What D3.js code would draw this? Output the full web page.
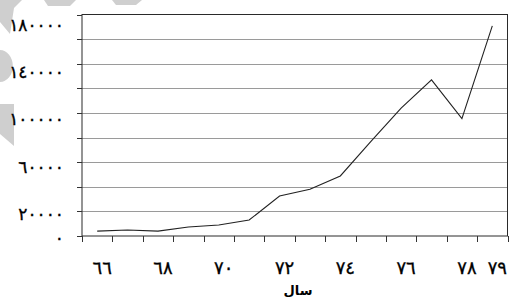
<!DOCTYPE html>
<html>
<head>
<meta charset="utf-8">
<script src="https://cdn.jsdelivr.net/npm/d3@7"></script>
<style>
  body { margin: 0; background: #fff; }
  svg { display: block; }
  text { font-family: "DejaVu Sans", sans-serif; fill: #000; }
  .oznaka { stroke: #000; stroke-width: 0.35; }
</style>
</head>
<body>
<div id="chart"></div>
<script>
// podaci
const godine = [66, 67, 68, 69, 70, 71, 72, 73, 74, 75, 76, 77, 78, 79];
const vrijednosti = [4000, 4900, 4000, 7300, 9000, 13000, 32500, 38000, 48800, 76700, 103900, 126900, 95400, 170800];
const oznakeX = [66, 68, 70, 72, 74, 76, 78, 79];
const oznakeY = [0, 20000, 60000, 100000, 140000, 180000];
const yMax = 180000;
const yKorak = 20000;
const naslovX = "سال";

// arapsko-indijske znamenke
const fa = n => String(n).replace(/\d/g, c => "٠١٢٣٤٥٦٧٨٩"[+c]);

const dim = { width: 512, height: 297, left: 82, right: 507.5, top: 14.5, bottom: 236 };

const svg = d3.select("#chart").append("svg")
    .attr("width", dim.width)
    .attr("height", dim.height);

// vodeni žig (blijedi sivi oblici lijevo gore)
const zig = svg.append("g").attr("fill", "#cfcfcf");
zig.append("path").attr("d", "M0,0 L22,0 L14,8 L10,34 L0,22 Z");
zig.append("path").attr("d", "M44,0 L76,0 L70,6 L48,6 Z");
zig.append("path").attr("d", "M112,0 L142,0 L136,5 L116,5 Z");
zig.append("path").attr("d", "M0,50 A12,15 0 0 1 0,82 Z");
zig.append("path").attr("d", "M0,104 L14,104 L14,146 L0,134 Z");

const x = d3.scaleBand()
    .domain(godine)
    .range([dim.left, dim.right])
    .padding(0);

const y = d3.scaleLinear()
    .domain([0, yMax])
    .range([dim.bottom, dim.top]);

// oznake na y osi stoje malo niže od mreže, kao u izvorniku
const yOznaka = d3.scaleLinear()
    .domain([0, yMax])
    .range([dim.bottom + 2.5, dim.top + 11]);

// mreža
const mreza = d3.range(yKorak, yMax, yKorak);
svg.append("g")
    .selectAll("line")
    .data(mreza)
    .join("line")
        .attr("x1", dim.left)
        .attr("x2", dim.right)
        .attr("y1", d => Math.round(y(d)) + 0.5)
        .attr("y2", d => Math.round(y(d)) + 0.5)
        .attr("stroke", "#9a9a9a")
        .attr("stroke-width", 1);

// okvir
svg.append("rect")
    .attr("x", dim.left)
    .attr("y", dim.top)
    .attr("width", dim.right - dim.left)
    .attr("height", dim.bottom - dim.top)
    .attr("fill", "none")
    .attr("stroke", "#2a2a2a")
    .attr("stroke-width", 1);

// crtice y osi
svg.append("g")
    .selectAll("line")
    .data(d3.range(0, yMax + 1, yKorak))
    .join("line")
        .attr("x1", dim.left - 5)
        .attr("x2", dim.left)
        .attr("y1", d => Math.round(y(d)) + 0.5)
        .attr("y2", d => Math.round(y(d)) + 0.5)
        .attr("stroke", "#333");

// crtice x osi (na granicama kategorija)
const granice = godine.map(g => x(g)).concat([dim.right]);
svg.append("g")
    .selectAll("line")
    .data(granice)
    .join("line")
        .attr("x1", d => Math.round(d) + 0.5)
        .attr("x2", d => Math.round(d) + 0.5)
        .attr("y1", dim.bottom)
        .attr("y2", dim.bottom + 6)
        .attr("stroke", "#333");

// oznake y osi
svg.append("g")
    .selectAll("text")
    .data(oznakeY)
    .join("text")
        .attr("class", "oznaka")
        .attr("x", 64)
        .attr("y", d => yOznaka(d))
        .attr("dy", "0.3em")
        .attr("text-anchor", "end")
        .attr("font-size", 17)
        .text(d => fa(d));

// oznake x osi
svg.append("g")
    .selectAll("text")
    .data(oznakeX)
    .join("text")
        .attr("class", "oznaka")
        .attr("x", d => x(d) + x.bandwidth() / 2 + 5)
        .attr("y", 268)
        .attr("dy", "0.35em")
        .attr("text-anchor", "middle")
        .attr("font-size", 18)
        .text(d => fa(d));

// naslov x osi
svg.append("text")
    .attr("x", 298)
    .attr("y", 290)
    .attr("dy", "0.35em")
    .attr("text-anchor", "middle")
    .attr("font-size", 13)
    .attr("font-weight", "bold")
    .text(naslovX);

// linija
const linija = d3.line()
    .x((d, i) => x(godine[i]) + x.bandwidth() / 2)
    .y(d => y(d));

svg.append("path")
    .datum(vrijednosti)
    .attr("d", linija)
    .attr("fill", "none")
    .attr("stroke", "#222")
    .attr("stroke-width", 1.1);
</script>
</body>
</html>
